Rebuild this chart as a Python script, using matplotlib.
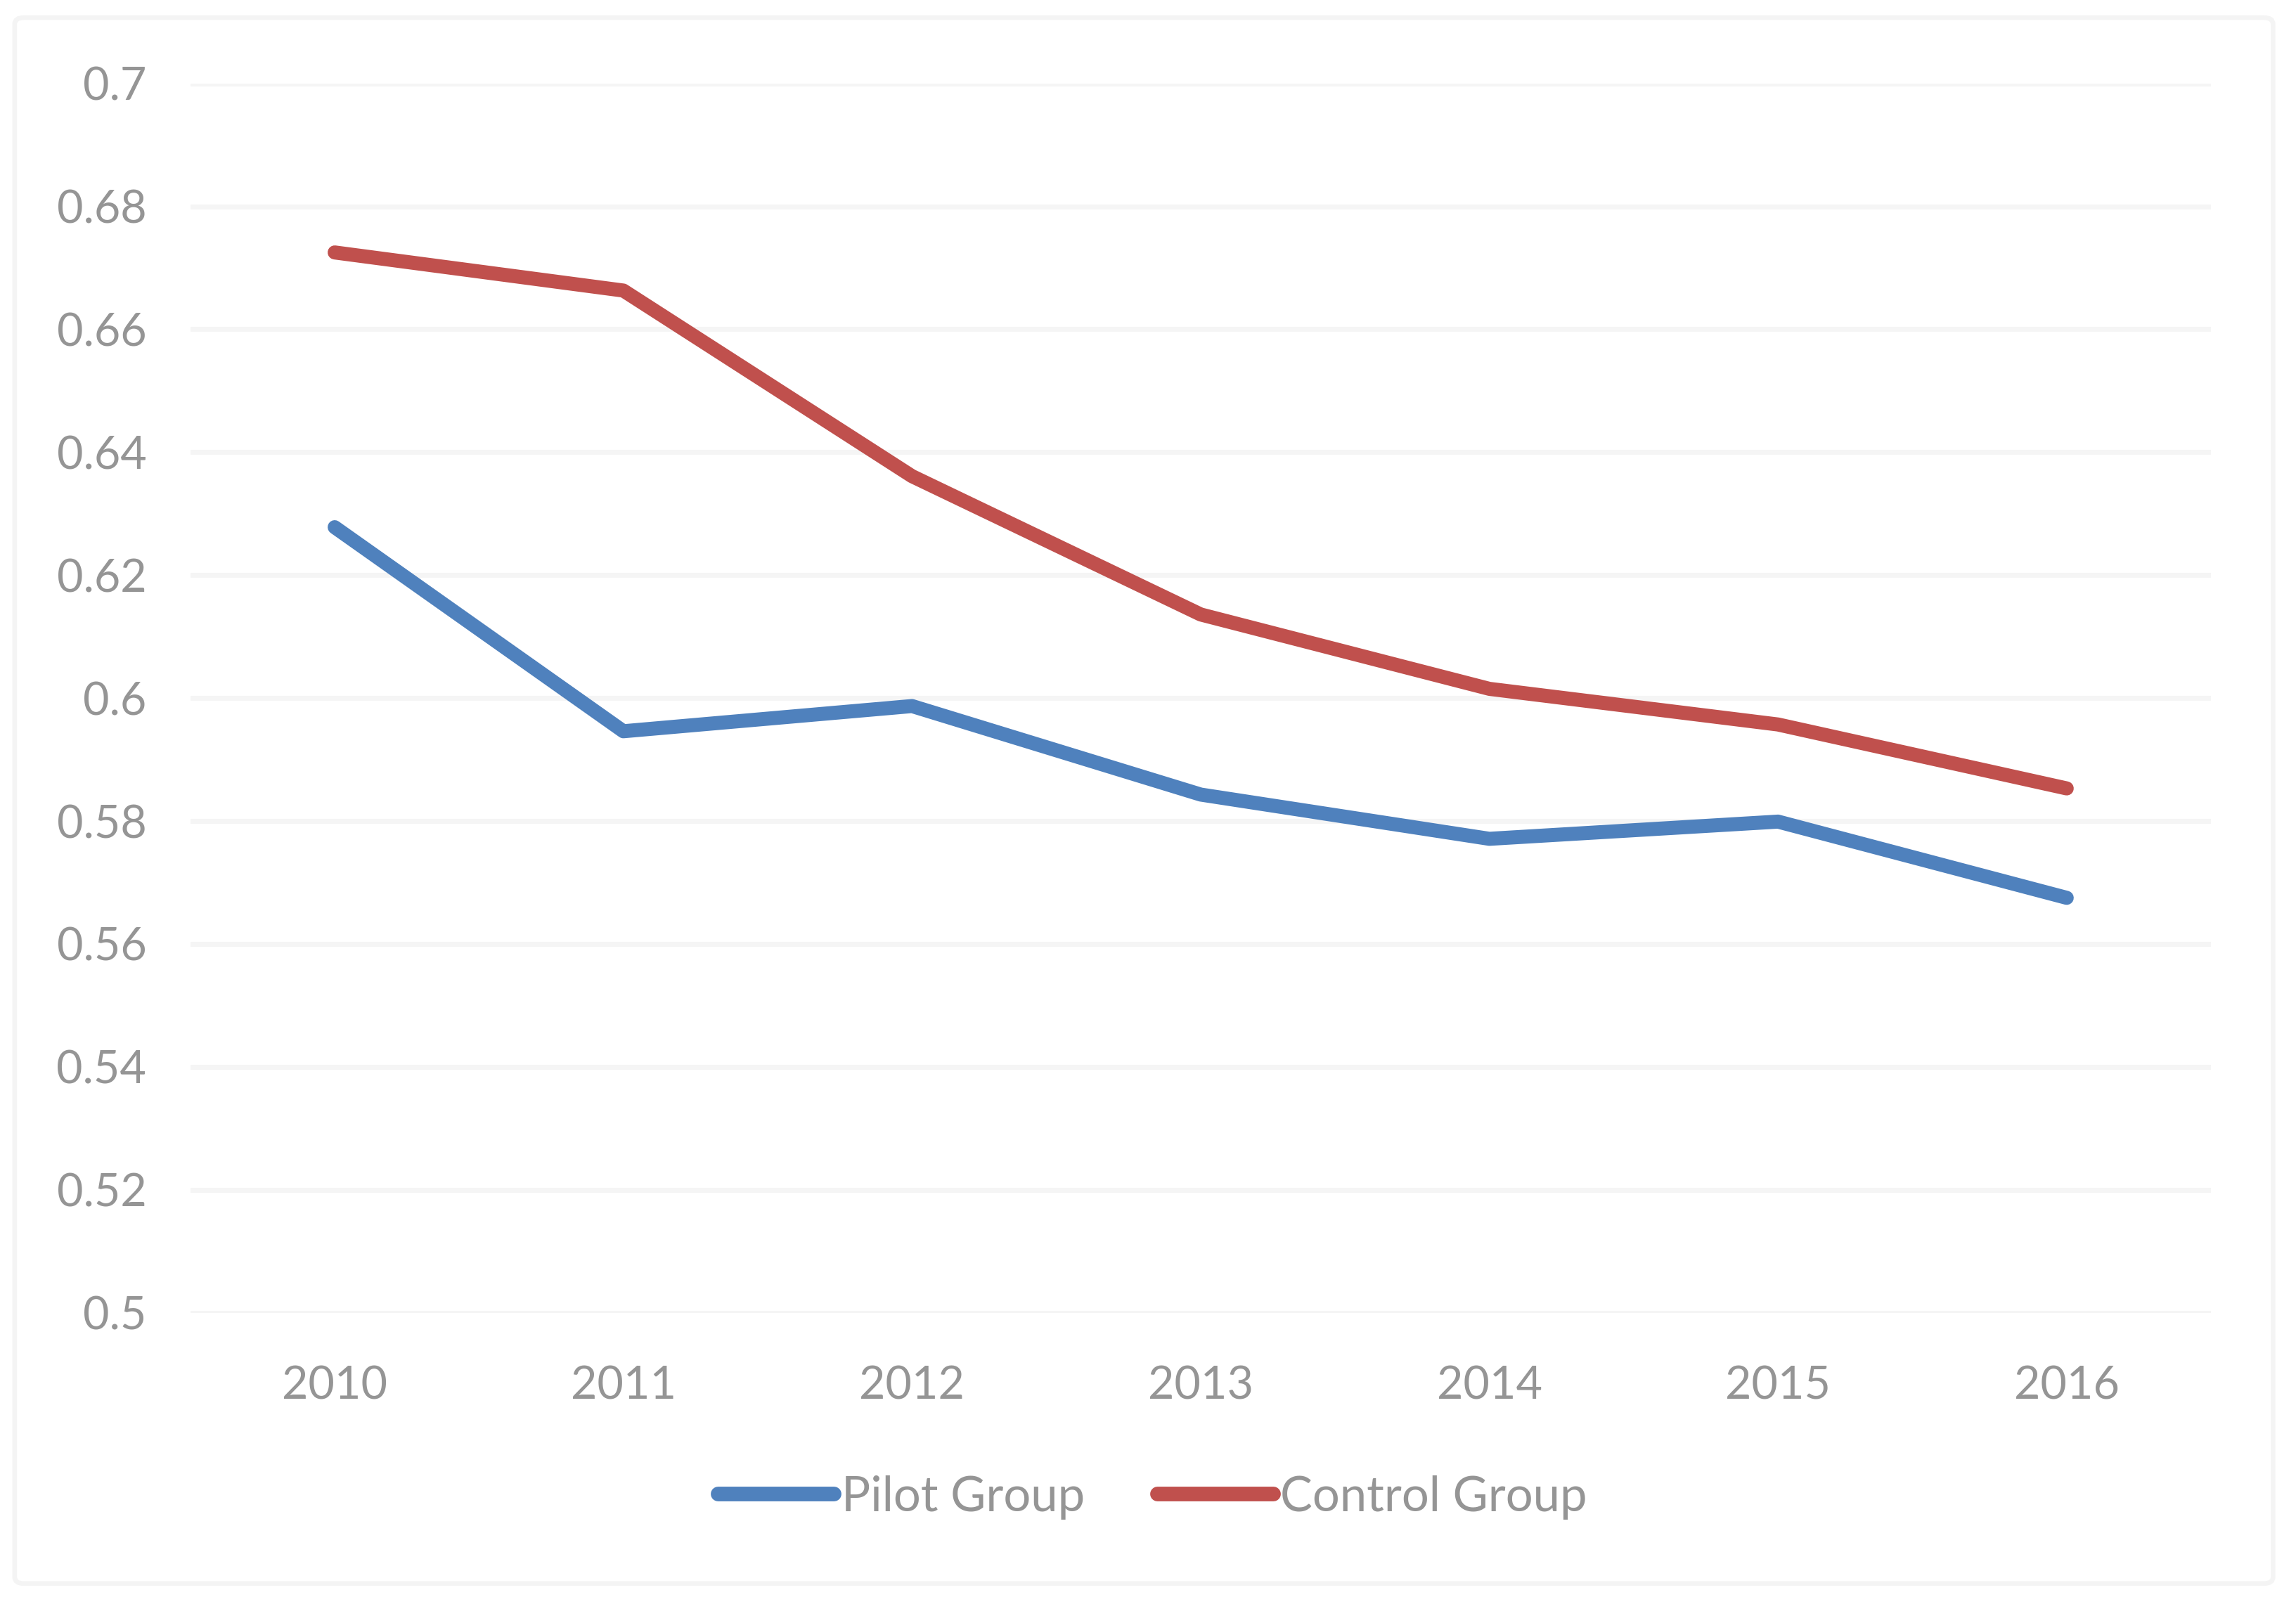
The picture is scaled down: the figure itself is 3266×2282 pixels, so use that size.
import matplotlib
matplotlib.use("Agg")
import matplotlib.pyplot as plt
from matplotlib.patches import FancyBboxPatch
import numpy as np

years = ["2010", "2011", "2012", "2013", "2014", "2015", "2016"]
pilot = [0.6278, 0.5946, 0.5987, 0.5843, 0.5771, 0.5799, 0.5675]
control = [0.6725, 0.6663, 0.6361, 0.6136, 0.6015, 0.5957, 0.5853]
yticks = [0.5, 0.52, 0.54, 0.56, 0.58, 0.6, 0.62, 0.64, 0.66, 0.68, 0.7]
series_names = ["Pilot Group", "Control Group"]

BLUE = "#4F81BD"
RED = "#C0504D"
TXT = "#959595"
GRID = "#F5F5F5"

plt.rcParams['font.family'] = ['Lato', 'DejaVu Sans']
FS = 15.5

fig = plt.figure(figsize=(3266 / 300, 2282 / 300), dpi=300)
fig.patch.set_facecolor("white")

frame = FancyBboxPatch((0.0064, 0.0128), 0.9836, 0.9762,
                       boxstyle="round,pad=0,rounding_size=0.004",
                       transform=fig.transFigure, facecolor="none",
                       edgecolor="#F4F4F4", linewidth=1.6, zorder=-10)
fig.patches.append(frame)

ax = fig.add_axes([0.0829, 0.1816, 0.963 - 0.0829, 0.948 - 0.1816])
ax.set_facecolor("none")
x = np.arange(len(years))

for yv in yticks:
    ax.axhline(yv, color=GRID, linewidth=1.7, zorder=1)

lp, = ax.plot(x, pilot, color=BLUE, linewidth=4.8, solid_capstyle="round",
              solid_joinstyle="round", zorder=3, label=series_names[0])
lc, = ax.plot(x, control, color=RED, linewidth=4.8, solid_capstyle="round",
              solid_joinstyle="round", zorder=3, label=series_names[1])

ax.set_xlim(-0.5, len(years) - 0.5)
ax.set_ylim(0.5, 0.7)
ax.set_xticks(x)
ax.set_xticklabels(years)
ax.set_yticks(yticks)
ax.set_yticklabels([("%g" % v) for v in yticks])
ax.tick_params(axis="both", length=0, labelsize=FS, labelcolor=TXT)
ax.tick_params(axis="y", pad=15)
ax.tick_params(axis="x", pad=18)
for s in ax.spines.values():
    s.set_visible(False)

leg = fig.legend(handles=[lp, lc], loc="center", bbox_to_anchor=(0.502, 0.0666),
                 ncol=2, frameon=False, fontsize=16.5, handlelength=2.4,
                 handletextpad=0.15, columnspacing=1.5, labelcolor=TXT)
for h in leg.get_lines():
    h.set_solid_capstyle("round")
    h.set_linewidth(5.0)

fig.savefig("out.png", dpi=300, facecolor="white")
